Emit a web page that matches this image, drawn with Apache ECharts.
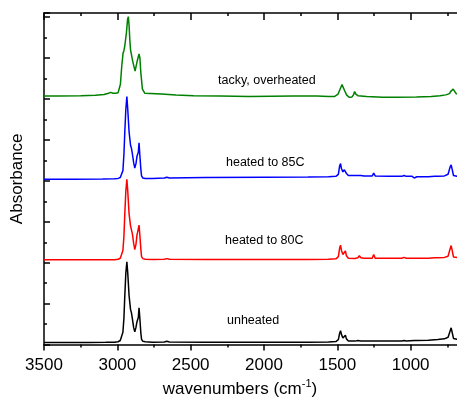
<!DOCTYPE html>
<html>
<head>
<meta charset="utf-8">
<script src="https://cdn.jsdelivr.net/npm/echarts@6/dist/echarts.min.js"></script>
<style>
html, body { margin: 0; padding: 0; background: #fff; overflow: hidden; }
/* the figure is cropped on the right, so the chart is wider than the window */
#chart { width: 490px; height: 403px; }
</style>
</head>
<body>
<div id="chart"></div>
<script>
// tick labels shown on the wavenumber axis
var xTickLabels = [3500, 3000, 2500, 2000, 1500, 1000];

// names of the four spectra (bottom to top)
var traceNames = ['unheated', 'heated to 80C', 'heated to 85C', 'tacky, overheated'];

// [wavenumber, absorbance]
var unheated = [
  [3500,0.05],[3400,0.05],[3200,0.05],[3080,0.055],[3020,0.06],[2995,0.07],[2980,0.1],[2970,0.14],
  [2962,0.3],[2955,0.65],[2949,1.2],[2942,1.75],[2935,2.02],[2929,1.75],[2920,1.2],[2910,0.86],
  [2904,0.78],[2897,0.62],[2889,0.42],[2881,0.31],[2873,0.42],[2866,0.56],[2862,0.58],[2857,0.66],
  [2852,0.9],[2846,0.62],[2840,0.3],[2835,0.13],[2826,0.08],[2810,0.07],[2760,0.06],[2680,0.065],
  [2662,0.08],[2645,0.065],[2400,0.06],[2000,0.06],[1700,0.06],[1560,0.065],[1510,0.075],[1493,0.12],
  [1484,0.28],[1478,0.34],[1472,0.25],[1462,0.16],[1452,0.19],[1445,0.23],[1438,0.14],[1425,0.09],
  [1380,0.085],[1360,0.1],[1350,0.13],[1340,0.09],[1318,0.085],[1308,0.1],[1298,0.085],[1262,0.085],
  [1252,0.13],[1242,0.085],[1150,0.085],[1060,0.09],[1045,0.1],[1030,0.09],[975,0.1],[966,0.12],
  [958,0.1],[880,0.105],[835,0.12],[825,0.14],[815,0.125],[770,0.14],[745,0.18],[732,0.32],
  [724,0.41],[717,0.3],[708,0.15],[695,0.12],[670,0.12]
];

var heated80 = [
  [3500,2.07],[3300,2.07],[3100,2.07],[3020,2.075],[2995,2.085],[2980,2.11],[2970,2.15],
  [2962,2.3],[2955,2.65],[2949,3.2],[2942,3.75],[2935,4.04],[2929,3.75],[2920,3.2],[2910,2.9],
  [2904,2.86],[2897,2.7],[2889,2.48],[2881,2.32],[2873,2.45],[2866,2.68],[2862,2.74],[2857,2.7],
  [2852,2.92],[2846,2.65],[2840,2.35],[2835,2.15],[2826,2.1],[2810,2.085],[2760,2.08],[2680,2.085],
  [2662,2.1],[2645,2.085],[2400,2.08],[2000,2.08],[1700,2.08],[1560,2.085],[1510,2.095],[1493,2.15],
  [1484,2.36],[1478,2.43],[1472,2.3],[1462,2.2],[1452,2.24],[1445,2.29],[1438,2.17],[1425,2.11],
  [1380,2.105],[1360,2.12],[1350,2.17],[1340,2.12],[1318,2.11],[1310,2.13],[1300,2.11],[1262,2.11],
  [1252,2.2],[1242,2.11],[1150,2.11],[1060,2.11],[1045,2.13],[1030,2.11],[975,2.11],[966,2.14],
  [958,2.11],[880,2.11],[835,2.12],[825,2.14],[815,2.12],[770,2.13],[745,2.16],[732,2.33],
  [724,2.42],[717,2.3],[708,2.14],[695,2.12],[670,2.12]
];

var heated85 = [
  [3500,4.04],[3300,4.04],[3100,4.045],[3020,4.05],[2995,4.06],[2980,4.08],[2970,4.12],
  [2962,4.25],[2955,4.65],[2949,5.2],[2942,5.75],[2935,6.06],[2929,5.75],[2920,5.2],[2910,4.87],
  [2904,4.8],[2897,4.65],[2889,4.45],[2881,4.31],[2873,4.42],[2866,4.6],[2862,4.63],[2857,4.7],
  [2852,4.93],[2846,4.6],[2840,4.3],[2835,4.12],[2826,4.07],[2810,4.06],[2760,4.06],[2680,4.07],
  [2662,4.09],[2645,4.07],[2400,4.08],[2000,4.09],[1700,4.095],[1560,4.1],[1510,4.11],[1493,4.16],
  [1484,4.37],[1478,4.42],[1472,4.3],[1462,4.22],[1452,4.27],[1445,4.31],[1438,4.18],[1425,4.13],
  [1380,4.13],[1368,4.15],[1358,4.13],[1350,4.16],[1340,4.13],[1318,4.12],[1310,4.15],[1300,4.12],
  [1262,4.12],[1252,4.19],[1242,4.12],[1150,4.11],[1060,4.11],[1045,4.13],[1030,4.11],[990,4.11],
  [975,4.07],[966,4.11],[958,4.1],[880,4.1],[835,4.11],[825,4.13],[815,4.11],[770,4.12],
  [745,4.16],[732,4.33],[724,4.39],[717,4.28],[708,4.13],[695,4.1],[670,4.1]
];

var overheated = [
  [3500,6.07],[3400,6.07],[3250,6.08],[3150,6.09],[3090,6.11],[3060,6.14],[3045,6.16],[3030,6.14],
  [3010,6.14],[2995,6.15],[2988,6.17],[2979,6.36],[2970,6.8],[2961,7.12],[2955,7.18],[2949,7.3],
  [2938,7.62],[2930,7.95],[2925,8.01],[2920,7.8],[2915,7.45],[2910,7.2],[2895,6.92],[2879,6.68],
  [2865,6.92],[2852,7.1],[2846,7.0],[2840,6.65],[2829,6.24],[2813,6.14],[2800,6.13],[2700,6.12],
  [2600,6.1],[2480,6.08],[2300,6.07],[2100,6.06],[1800,6.07],[1640,6.07],[1560,6.06],[1520,6.06],
  [1495,6.12],[1480,6.25],[1468,6.35],[1460,6.32],[1450,6.2],[1437,6.1],[1420,6.04],[1400,6.05],
  [1390,6.1],[1382,6.18],[1374,6.12],[1360,6.08],[1300,6.06],[1190,6.04],[1100,6.04],[960,6.05],
  [860,6.06],[800,6.08],[760,6.1],[735,6.13],[728,6.18],[722,6.22],[716,6.2],[710,6.24],
  [705,6.27],[700,6.2],[690,6.13],[670,6.12]
];

var traceData = [unheated, heated80, heated85, overheated];
var traceColors = ['#000000', '#ff0000', '#0000ff', '#008000'];

var font = '"Liberation Sans", Arial, sans-serif';
var axisColor = '#000';

var chart = echarts.init(document.getElementById('chart'));

var option = {
  animation: false,
  backgroundColor: '#fff',
  grid: { left: 44, right: 6, top: 13, bottom: 54 },
  xAxis: [
    {
      type: 'value',
      inverse: true,
      min: 500,
      max: 3500,
      interval: 500,
      position: 'bottom',
      axisLine: { lineStyle: { color: axisColor, width: 1.5 } },
      axisTick: { inside: false, length: 6, lineStyle: { color: axisColor, width: 1.5 } },
      minorTick: { show: true, splitNumber: 2, length: 3, lineStyle: { color: axisColor, width: 1.5 } },
      splitLine: { show: false },
      minorSplitLine: { show: false },
      axisLabel: {
        fontSize: 17, color: '#000', fontFamily: font, margin: 12,
        formatter: function (v) { return xTickLabels.indexOf(v) >= 0 ? String(v) : ''; }
      },
      name: '{n|wavenumbers (cm}{s|-1}{n|)}',
      nameLocation: 'middle',
      nameGap: 32,
      nameTextStyle: {
        padding: [0, 48, 0, 0],
        rich: {
          n: { fontSize: 17, fontFamily: font, color: '#000', lineHeight: 22 },
          s: { fontSize: 11, fontFamily: font, color: '#000', lineHeight: 22, verticalAlign: 'top', padding: [0, 0, 6, 0] }
        }
      }
    },
    {
      type: 'value',
      inverse: true,
      min: 500,
      max: 3500,
      interval: 500,
      position: 'top',
      axisLine: { lineStyle: { color: axisColor, width: 1.5 } },
      axisTick: { inside: true, length: 7, lineStyle: { color: axisColor, width: 1.5 } },
      minorTick: { show: true, splitNumber: 2, length: 3, lineStyle: { color: axisColor, width: 1.5 } },
      splitLine: { show: false },
      axisLabel: { show: false }
    }
  ],
  yAxis: {
    type: 'value',
    min: 0,
    max: 8.1,
    interval: 1,
    axisLine: { show: true, lineStyle: { color: axisColor, width: 1.5 } },
    axisTick: { inside: true, length: 6, lineStyle: { color: axisColor, width: 1.5 } },
    minorTick: { show: true, splitNumber: 2, length: 3, lineStyle: { color: axisColor, width: 1.5 } },
    splitLine: { show: false },
    axisLabel: { show: false },
    name: 'Absorbance',
    nameLocation: 'middle',
    nameGap: 18,
    nameTextStyle: { fontSize: 17, fontFamily: font, color: '#000' }
  },
  graphic: [
    { type: 'text', x: 227, y: 321, style: { text: traceNames[0], font: '12.5px ' + font, fill: '#000', verticalAlign: 'middle' } },
    { type: 'text', x: 225, y: 241, style: { text: traceNames[1], font: '12.5px ' + font, fill: '#000', verticalAlign: 'middle' } },
    { type: 'text', x: 226, y: 163, style: { text: traceNames[2], font: '12.5px ' + font, fill: '#000', verticalAlign: 'middle' } },
    { type: 'text', x: 218, y: 81, style: { text: traceNames[3], font: '12.5px ' + font, fill: '#000', verticalAlign: 'middle' } }
  ],
  series: traceData.map(function (d, i) {
    return {
      name: traceNames[i],
      type: 'line',
      xAxisIndex: 0,
      data: d,
      showSymbol: false,
      smooth: false,
      lineStyle: { color: traceColors[i], width: 1.5 },
      itemStyle: { color: traceColors[i] }
    };
  })
};

chart.setOption(option);
</script>
</body>
</html>
